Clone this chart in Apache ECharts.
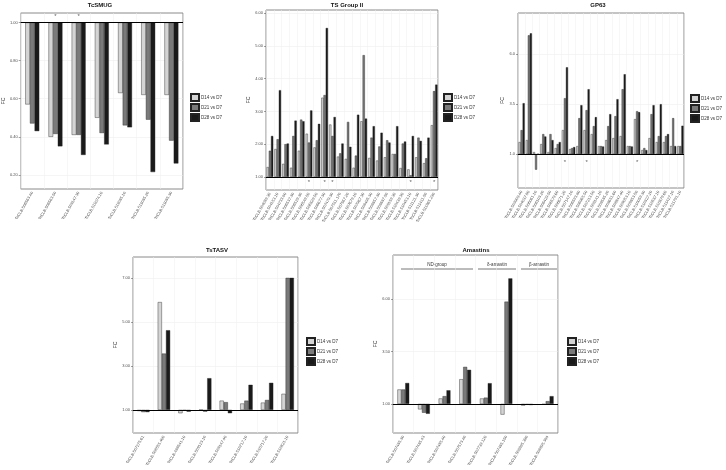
<!DOCTYPE html>
<html>
<head>
<meta charset="utf-8">
<script src="https://cdn.jsdelivr.net/npm/echarts@6/dist/echarts.min.js"></script>
<style>
html, body { margin: 0; padding: 0; background: #fff; }
#chart { width: 726px; height: 470px; }
</style>
</head>
<body>
<div id="chart"></div>
<script>
// fold change (FC) per gene, baseline FC = 1
const seriesNames = ["D14 vs D7", "D21 vs D7", "D28 vs D7"];

const smugGenes = ["TcCLB.506563.40", "TcCLB.506563.50", "TcCLB.509147.30", "TcCLB.511074.10", "TcCLB.511085.10", "TcCLB.511085.20", "TcCLB.511085.30"];
const smugD14 = [0.57, 0.40, 0.41, 0.50, 0.63, 0.62, 0.62];
const smugD21 = [0.47, 0.415, 0.41, 0.42, 0.46, 0.49, 0.38];
const smugD28 = [0.43, 0.35, 0.305, 0.36, 0.45, 0.215, 0.26];
const smugTicks = [0.2, 0.4, 0.6, 0.8, 1.0];
const smugStars = ["TcCLB.506563.50", "TcCLB.509147.30"];

const tsGenes = ["TcCLB.504089.30", "TcCLB.504153.10", "TcCLB.504733.90", "TcCLB.506537.30", "TcCLB.506529.30", "TcCLB.506549.50", "TcCLB.506829.50", "TcCLB.506677.30", "TcCLB.507479.30", "TcCLB.507511.170", "TcCLB.507567.20", "TcCLB.507679.10", "TcCLB.507967.30", "TcCLB.508495.30", "TcCLB.508857.30", "TcCLB.508887.50", "TcCLB.509159.30", "TcCLB.510439.30", "TcCLB.510453.10", "TcCLB.511121.30", "TcCLB.511411.50", "TcCLB.511865.230"];
const tsD14 = [1.3, 1.85, 1.4, 1.28, 1.8, 2.32, 1.9, 3.42, 2.6, 1.62, 1.55, 1.28, 2.7, 1.58, 1.5, 1.6, 1.7, 1.27, 1.23, 1.6, 1.42, 2.58];
const tsD21 = [1.8, 2.15, 2.0, 2.25, 2.75, 2.05, 2.12, 3.5, 2.25, 1.72, 2.68, 1.65, 4.72, 2.2, 1.93, 2.12, 1.7, 2.02, 1.05, 2.2, 1.57, 3.62];
const tsD28 = [2.25, 3.65, 2.02, 2.72, 2.7, 3.03, 2.62, 5.55, 2.83, 2.02, 1.92, 2.9, 2.78, 2.55, 2.35, 2.05, 2.55, 2.08, 2.25, 2.1, 2.2, 3.82];
const tsTicks = [1, 2, 3, 4, 5, 6];
const tsStars = ["TcCLB.506549.50", "TcCLB.506677.30", "TcCLB.507479.30", "TcCLB.510453.10", "TcCLB.511865.230"];

const gpGenes = ["TcCLB.503909.40", "TcCLB.504037.80", "TcCLB.506061.10", "TcCLB.506103.20", "TcCLB.506429.50", "TcCLB.506579.60", "TcCLB.506671.20", "TcCLB.507147.10", "TcCLB.506593.80", "TcCLB.506965.50", "TcCLB.507213.50", "TcCLB.508141.10", "TcCLB.508585.20", "TcCLB.508651.60", "TcCLB.508847.40", "TcCLB.509053.10", "TcCLB.509853.50", "TcCLB.510059.30", "TcCLB.510327.20", "TcCLB.510587.10", "TcCLB.510879.60", "TcCLB.511427.10", "TcCLB.511791.10"];
const gpD14 = [1.6, 1.7, 1.1, 1.5, 1.1, 1.3, 2.2, 1.25, 1.4, 2.2, 2.0, 1.4, 1.7, 1.8, 1.9, 1.4, 2.75, 1.2, 1.8, 1.6, 1.6, 1.4, 1.4];
const gpD21 = [2.2, 6.95, 0.22, 2.0, 2.0, 1.5, 3.8, 1.3, 2.8, 3.2, 2.4, 1.4, 2.4, 2.9, 4.25, 1.4, 3.15, 1.3, 3.0, 1.9, 1.9, 2.8, 1.4];
const gpD28 = [3.55, 7.05, 1.0, 1.88, 1.7, 1.6, 5.35, 1.35, 3.45, 4.25, 2.85, 1.38, 3.0, 3.75, 5.0, 1.38, 3.1, 1.2, 3.45, 3.5, 2.0, 1.4, 2.42];
const gpTicks = [1.0, 3.5, 6.0];
const gpStars = ["TcCLB.506671.20", "TcCLB.506965.50", "TcCLB.509853.50"];

const tasvGenes = ["TcCLB.507275.61", "TcCLB.508555.400", "TcCLB.488541.10", "TcCLB.509123.10", "TcCLB.509147.40", "TcCLB.510717.10", "TcCLB.510717.20", "TcCLB.510821.10"];
const tasvD14 = [0.95, 5.9, 0.85, 1.0, 1.42, 1.29, 1.33, 1.73];
const tasvD21 = [0.9, 3.56, 0.97, 0.92, 1.35, 1.42, 1.45, 7.0];
const tasvD28 = [0.9, 4.62, 0.92, 2.44, 0.85, 2.14, 2.23, 7.0];
const tasvTicks = [1, 3, 5, 7];

const amaGenes = ["TcCLB.507485.30", "TcCLB.507485.43", "TcCLB.507485.40", "TcCLB.507573.40", "TcCLB.507739.120", "TcCLB.507485.150", "TcCLB.508895.380", "TcCLB.508895.384"];
const amaD14 = [1.69, 0.74, 1.26, 2.18, 1.26, 0.49, 0.92, 0.97];
const amaD21 = [1.69, 0.58, 1.37, 2.77, 1.30, 5.89, 0.96, 1.13];
const amaD28 = [2.0, 0.53, 1.65, 2.63, 1.99, 7.0, 0.95, 1.37];
const amaTicks = [1.0, 3.5, 6.0];

const colors = ["#d4d4d4", "#7a7a7a", "#1a1a1a"];
const font = "Liberation Sans, Arial, sans-serif";

const panels = [
  { title: "TcSMUG", cx: 100, ty: 2, genes: smugGenes, values: [smugD14, smugD21, smugD28], ticks: smugTicks, digits: 2,
    min: 0.126, max: 1.05, grid: { left: 18, top: 13, width: 165, height: 176 }, legend: { left: 190, top: 93 },
    gap: "40%", stars: smugStars, starY: 1.035, nameGap: 13 },
  { title: "TS Group II", cx: 347, ty: 2, genes: tsGenes, values: [tsD14, tsD21, tsD28], ticks: tsTicks, digits: 2,
    min: 0.6, max: 6.1, grid: { left: 266, top: 10, width: 172, height: 180 }, legend: { left: 443, top: 93 },
    gap: "15%", stars: tsStars, starY: 0.84, nameGap: 13 },
  { title: "GP63", cx: 598, ty: 2, genes: gpGenes, values: [gpD14, gpD21, gpD28], ticks: gpTicks, digits: 1,
    min: -0.7, max: 8.07, grid: { left: 518, top: 13, width: 166, height: 175 }, legend: { left: 690, top: 94 },
    gap: "15%", stars: gpStars, starY: 0.58, nameGap: 10 },
  { title: "TsTASV", cx: 217, ty: 247, genes: tasvGenes, values: [tasvD14, tasvD21, tasvD28], ticks: tasvTicks, digits: 2,
    min: -0.05, max: 7.95, grid: { left: 133, top: 257, width: 165, height: 176 }, legend: { left: 306, top: 337 },
    gap: "40%", stars: [], starY: 0, nameGap: 11 },
  { title: "Amastins", cx: 476, ty: 247, genes: amaGenes, values: [amaD14, amaD21, amaD28], ticks: amaTicks, digits: 2,
    min: -0.39, max: 8.12, grid: { left: 393, top: 255, width: 165, height: 178 }, legend: { left: 567, top: 337 },
    gap: "43%", stars: [], starY: 0, nameGap: 11 }
];

const grid = [], xAxis = [], yAxis = [], series = [], legend = [], graphic = [];

panels.forEach(function (p, i) {
  grid.push(Object.assign({ show: true, borderColor: "#8a8a8a", borderWidth: 1, backgroundColor: "#fff" }, p.grid));
  xAxis.push({
    type: "category", gridIndex: i, data: p.genes,
    axisLine: { show: false },
    axisTick: { alignWithLabel: true, length: 2, lineStyle: { color: "#444", width: 0.5 } },
    axisLabel: { rotate: 60, interval: 0, fontSize: 4, color: "#4d4d4d", margin: 3, fontFamily: font },
    splitLine: { show: true, interval: 0, lineStyle: { color: "#efefef", width: 0.5 } }
  });
  const tv = p.ticks.map(function (t) { return t - 1; });
  yAxis.push({
    type: "value", gridIndex: i, min: p.min - 1, max: p.max - 1,
    name: "FC", nameLocation: "middle", nameGap: p.nameGap, nameRotate: 90,
    nameTextStyle: { fontSize: 5, color: "#222", fontFamily: font },
    axisLine: { show: false },
    axisTick: { show: true, customValues: tv, length: 2, lineStyle: { color: "#444", width: 0.5 } },
    axisLabel: { customValues: tv, fontSize: 4, color: "#4d4d4d", margin: 3, fontFamily: font,
      formatter: function (v) { return (v + 1).toFixed(p.digits); } },
    splitLine: { show: true, lineStyle: { color: "#ebebeb", width: 0.5 } }
  });
  p.values.forEach(function (vals, k) {
    const s = {
      name: seriesNames[k], type: "bar", xAxisIndex: i, yAxisIndex: i,
      data: vals.map(function (v) { return +(v - 1).toFixed(4); }),
      barGap: "0%", barCategoryGap: p.gap,
      itemStyle: { color: colors[k], borderColor: "#222", borderWidth: 0.4 },
      silent: true, animation: false
    };
    if (k === 2) {
      s.markLine = {
        silent: true, symbol: ["none", "none"], label: { show: false },
        lineStyle: { color: "#000", width: 1.2, type: "solid" },
        data: [{ yAxis: 0 }], animation: false
      };
    }
    series.push(s);
  });
  if (p.stars.length) {
    series.push({
      name: "sig" + i, type: "scatter", xAxisIndex: i, yAxisIndex: i,
      data: p.stars.map(function (g) { return [g, p.starY - 1]; }),
      symbolSize: 1, itemStyle: { color: "rgba(0,0,0,0)" },
      label: { show: true, position: "inside", formatter: "*", fontSize: 6, color: "#333", fontFamily: font },
      silent: true, animation: false
    });
  }
  legend.push({
    left: p.legend.left, top: p.legend.top, orient: "vertical", data: seriesNames, padding: 0,
    icon: "rect", itemWidth: 8, itemHeight: 7, itemGap: 1, selectedMode: false,
    textStyle: { fontSize: 4.5, color: "#333", fontFamily: font, padding: [0, 0, 0, -3] }
  });
  graphic.push({
    type: "text", x: p.cx, y: p.ty, silent: true,
    style: { text: p.title, font: "bold 6px " + font, fill: "#111", textAlign: "center" }
  });
});

// strip headers for the amastin subfamilies
const amaGroups = [
  { label: "ND-group", x1: 401, x2: 473 },
  { label: "\u03b4-amastin", x1: 478, x2: 516 },
  { label: "\u03b2-amastin", x1: 521, x2: 557 }
];
amaGroups.forEach(function (g) {
  graphic.push({
    type: "text", x: (g.x1 + g.x2) / 2, y: 262, silent: true,
    style: { text: g.label, font: "4.5px " + font, fill: "#333", textAlign: "center" }
  });
  graphic.push({
    type: "line", silent: true,
    shape: { x1: g.x1, y1: 269, x2: g.x2, y2: 269 },
    style: { stroke: "#555", lineWidth: 0.8 }
  });
});

const chart = echarts.init(document.getElementById("chart"));
chart.setOption({
  backgroundColor: "#fff",
  animation: false,
  textStyle: { fontFamily: font },
  grid: grid, xAxis: xAxis, yAxis: yAxis, series: series, legend: legend, graphic: graphic
});
</script>
</body>
</html>
